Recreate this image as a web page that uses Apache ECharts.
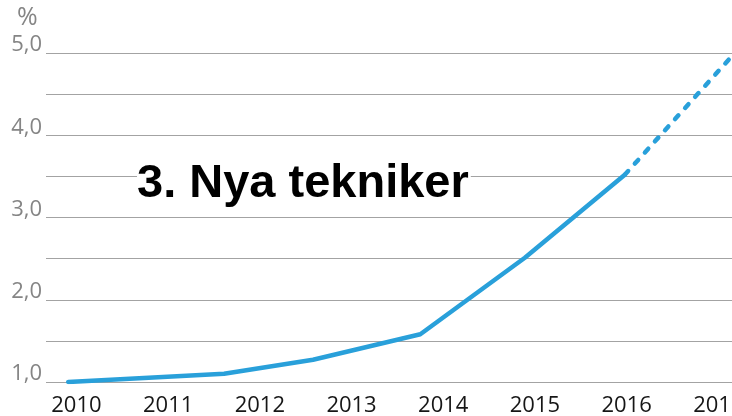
<!DOCTYPE html>
<html>
<head>
<meta charset="utf-8">
<script src="https://cdn.jsdelivr.net/npm/echarts@6/dist/echarts.min.js"></script>
<style>
  html, body { margin: 0; padding: 0; background: #fff; }
  #chart { width: 732px; height: 416px; }
</style>
</head>
<body>
<div id="chart"></div>
<script>
// data (x in fractional years, y in %)
const yearLabels = [2010, 2011, 2012, 2013, 2014, 2015, 2016, 2017];
const yLabels = [1, 2, 3, 4, 5];
const actualYears = [2009.91, 2011.61, 2012.58, 2013.75, 2014.89, 2015.98];
const actualValues = [1.0, 1.10, 1.27, 1.58, 2.51, 3.52];
const forecastYears = [2015.98, 2017.13];
const forecastValues = [3.52, 4.94];

const blue = '#29a0da';

const chart = echarts.init(document.getElementById('chart'));

const option = {
  animation: false,
  backgroundColor: '#fff',
  grid: { left: 46, right: 0, top: 53, bottom: 34, containLabel: false, outerBoundsMode: 'none' },
  xAxis: {
    type: 'value',
    min: 2009.668,
    max: 2017.149,
    axisLine: { show: false },
    axisTick: { show: false },
    splitLine: { show: false },
    axisLabel: {
      customValues: yearLabels,
      formatter: (v) => String(v),
      color: '#161616',
      fontFamily: 'Open Sans',
      fontSize: 22,
      margin: 13,
      hideOverlap: false
    }
  },
  yAxis: {
    type: 'value',
    min: 1,
    max: 5,
    interval: 0.5,
    axisLine: { show: false },
    axisTick: { show: false },
    splitLine: { lineStyle: { color: '#a3a3a3', width: 1 } },
    axisLabel: {
      customValues: yLabels,
      formatter: (v) => v.toFixed(1).replace('.', ','),
      color: '#858585',
      fontFamily: 'Open Sans',
      fontSize: 22,
      margin: 4,
      verticalAlign: 'bottom',
      lineHeight: 16
    }
  },
  series: [
    {
      type: 'line',
      data: actualYears.map((x, i) => [x, actualValues[i]]),
      showSymbol: false,
      lineStyle: { color: blue, width: 4.5, cap: 'round', join: 'round' }
    },
    {
      type: 'line',
      data: forecastYears.map((x, i) => [x, forecastValues[i]]),
      showSymbol: false,
      lineStyle: { color: blue, width: 4.5, type: [5, 10], cap: 'round' }
    }
  ],
  graphic: [
    {
      type: 'text',
      left: 17,
      top: 5,
      style: {
        text: '%',
        fill: '#858585',
        font: '25px "Open Sans"'
      }
    },
    {
      type: 'text',
      x: 137,
      y: 184,
      z: 100,
      style: {
        text: '3. Nya tekniker',
        fill: '#000',
        font: 'bold 47px "Liberation Sans", Arial, sans-serif',
        verticalAlign: 'middle',
        backgroundColor: '#fff',
        padding: [0, 2, 0, 0]
      }
    }
  ]
};

chart.setOption(option);
</script>
</body>
</html>
